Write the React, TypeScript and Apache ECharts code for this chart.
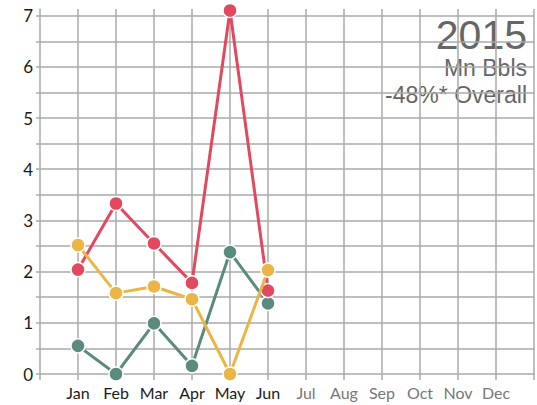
import React, { useEffect, useRef } from "react";
import * as echarts from "echarts";

const months = ["Jan", "Feb", "Mar", "Apr", "May", "Jun", "Jul", "Aug", "Sep", "Oct", "Nov", "Dec"];
const activeMonths = 6;
const redValues = [2.04, 3.33, 2.55, 1.78, 7.1, 1.63];
const yellowValues = [2.52, 1.58, 1.71, 1.46, 0, 2.03];
const greenValues = [0.55, 0, 0.99, 0.16, 2.38, 1.38];
const titleLines = ["2015", "Mn Bbls", "-48%* Overall"];

const toPoints = (vals: number[]) => vals.map((v, i) => [i + 1, v]);

export default function App() {
  const ref = useRef<HTMLDivElement>(null);
  useEffect(() => {
    if (!ref.current) return;
    const chart = echarts.init(ref.current, null, { renderer: "svg" });
    const gridColor = "#aaaaaa";
    const mkSeries = (name: string, vals: number[], color: string, z: number) => ({
      name,
      type: "line",
      data: toPoints(vals),
      symbol: "circle",
      symbolSize: 14,
      z,
      lineStyle: { color, width: 3 },
      itemStyle: { color, borderColor: "#ffffff", borderWidth: 1.5 },
      emphasis: { disabled: true },
    });
    chart.setOption({
      animation: false,
      grid: { left: 40, right: -2, top: 9, bottom: 31 },
      xAxis: {
        type: "value",
        min: 0,
        max: 13,
        interval: 1,
        axisLine: { show: true, lineStyle: { color: gridColor, width: 1.5 } },
        axisTick: { show: true, length: 6, lineStyle: { color: gridColor, width: 1.5 } },
        splitLine: { show: true, showMinLine: false, lineStyle: { color: gridColor, width: 1.5 } },
        axisLabel: {
          margin: 10,
          formatter: (v: number) => {
            const i = Math.round(v) - 1;
            if (i < 0 || i >= months.length) return "";
            return i < activeMonths ? `{a|${months[i]}}` : `{b|${months[i]}}`;
          },
          rich: {
            a: { color: "#1a1a1a", fontFamily: "Lato", fontSize: 16 },
            b: { color: "#777777", fontFamily: "Lato", fontSize: 16 },
          },
        },
      },
      yAxis: {
        type: "value",
        min: 0,
        max: 7.13,
        interval: 0.5,
        axisLine: { show: true, lineStyle: { color: gridColor, width: 1.5 } },
        axisTick: { show: true, length: 4, lineStyle: { color: gridColor, width: 1.5 } },
        splitLine: { show: true, showMaxLine: false, showMinLine: false, lineStyle: { color: gridColor, width: 1.5 } },
        axisLabel: {
          margin: 7,
          showMaxLabel: false,
          color: "#1a1a1a",
          fontFamily: "Lato",
          fontSize: 17,
          formatter: (v: number) => (Math.abs(v - Math.round(v)) < 1e-6 ? String(Math.round(v)) : ""),
        },
      },
      graphic: [
        { type: "text", x: 527, y: 34.5, style: { text: titleLines[0], align: "right", verticalAlign: "middle", fill: "#666666", font: "41px 'Liberation Sans'", lineHeight: 40 } },
        { type: "text", x: 527, y: 68, style: { text: titleLines[1], align: "right", verticalAlign: "middle", fill: "#666666", font: "23px 'Liberation Sans'", lineHeight: 22 } },
        { type: "text", x: 527, y: 94.5, style: { text: titleLines[2], align: "right", verticalAlign: "middle", fill: "#666666", font: "23px 'Liberation Sans'", lineHeight: 22 } },
      ],
      series: [
        mkSeries("Green", greenValues, "#5b8a7f", 2),
        mkSeries("Red", redValues, "#e2485e", 3),
        mkSeries("Yellow", yellowValues, "#ebb547", 4),
      ],
    });
    return () => chart.dispose();
  }, []);
  return <div ref={ref} style={{ width: 537, height: 405, position: "absolute", left: 0, top: 0 }} />;
}
